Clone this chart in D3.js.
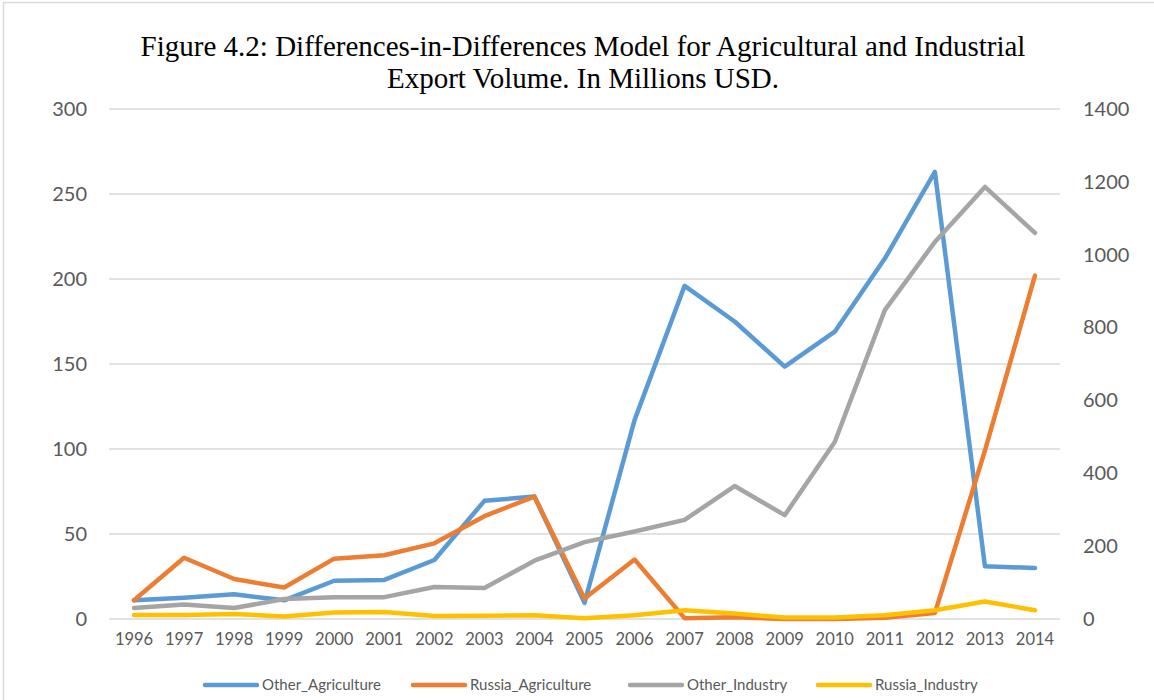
<!DOCTYPE html>
<html>
<head>
<meta charset="utf-8">
<script src="https://cdn.jsdelivr.net/npm/d3@7"></script>
<style>
  html, body { margin: 0; padding: 0; background: #fff; }
  svg { display: block; }
</style>
</head>
<body>
<svg id="chart" width="1154" height="700"></svg>
<script>
// Export volumes, millions USD
const years = ["1996","1997","1998","1999","2000","2001","2002","2003","2004","2005",
               "2006","2007","2008","2009","2010","2011","2012","2013","2014"];

// Primary (left) axis series
const otherAgriculture  = [11, 12.5, 14.5, 11, 22.5, 23, 34.7, 69.5, 72, 9.5,
                           117, 196, 175, 148.5, 169, 212, 263, 31, 30];
const russiaAgriculture = [11, 36, 23.5, 18.5, 35.5, 37.5, 44.5, 60.5, 72, 12,
                           35, 0.5, 1, 0, 0, 0.8, 3.5, 99, 202];

// Secondary (right) axis series
const otherIndustry  = [30, 40, 30, 55, 60, 60, 88, 85, 160, 211,
                        240, 272, 365, 285, 486, 848, 1035, 1186, 1060];
const russiaIndustry = [11, 11, 14, 7, 18, 19, 8, 9, 10, 2,
                        10, 24, 15, 4, 4, 10, 24, 48, 24];

const leftTicks  = [0, 50, 100, 150, 200, 250, 300];
const rightTicks = [0, 200, 400, 600, 800, 1000, 1200, 1400];

const seriesNames  = ["Other_Agriculture", "Russia_Agriculture", "Other_Industry", "Russia_Industry"];
const seriesColors = ["#5B9BD5", "#ED7D31", "#A5A5A5", "#FFC000"];
const titleLines = [
  "Figure 4.2: Differences-in-Differences Model for Agricultural and Industrial",
  "Export Volume. In Millions USD."
];

const series = [
  { name: seriesNames[0], values: otherAgriculture,  axis: "left",  color: seriesColors[0] },
  { name: seriesNames[1], values: russiaAgriculture, axis: "left",  color: seriesColors[1] },
  { name: seriesNames[2], values: otherIndustry,     axis: "right", color: seriesColors[2] },
  { name: seriesNames[3], values: russiaIndustry,    axis: "right", color: seriesColors[3] }
];

const svg = d3.select("#chart");
const plot = { left: 109, right: 1060, top: 109, bottom: 619 };

// Chart frame
svg.append("rect")
  .attr("x", 3.5).attr("y", 2.5)
  .attr("width", 1170).attr("height", 720)
  .attr("fill", "#fff")
  .attr("stroke", "#D9D9D9").attr("stroke-width", 1.5);

const x = d3.scaleBand().domain(years).range([plot.left, plot.right]).padding(0);
const yLeft = d3.scaleLinear().domain([0, 300]).range([plot.bottom, plot.top]);
const yRight = d3.scaleLinear().domain([0, 1400]).range([plot.bottom, plot.top]);

// Title
svg.append("text")
  .attr("x", 583).attr("y", 56)
  .attr("text-anchor", "middle")
  .attr("font-family", "'Liberation Serif', 'Times New Roman', serif")
  .attr("font-size", 29)
  .attr("fill", "#000")
  .selectAll("tspan").data(titleLines).join("tspan")
  .attr("x", 583)
  .attr("dy", (d, i) => i === 0 ? 0 : 32)
  .text(d => d);

// Horizontal gridlines from the left axis
svg.append("g")
  .selectAll("line").data(leftTicks).join("line")
  .attr("x1", plot.left).attr("x2", plot.right)
  .attr("y1", d => yLeft(d)).attr("y2", d => yLeft(d))
  .attr("stroke", "#D9D9D9").attr("stroke-width", 1.5);

const labelFont = "Lato, 'Open Sans', sans-serif";

// Left axis
const leftAxis = svg.append("g")
  .attr("transform", `translate(${plot.left},0)`)
  .call(d3.axisLeft(yLeft).tickValues(leftTicks).tickFormat(d3.format("d")).tickSize(0).tickPadding(22));
leftAxis.select(".domain").remove();
leftAxis.selectAll("text")
  .attr("font-family", labelFont).attr("font-size", 20).attr("fill", "#595959");

// Right axis
const rightAxis = svg.append("g")
  .attr("transform", `translate(${plot.right},0)`)
  .call(d3.axisRight(yRight).tickValues(rightTicks).tickFormat(d3.format("d")).tickSize(0).tickPadding(23));
rightAxis.select(".domain").remove();
rightAxis.selectAll("text")
  .attr("font-family", labelFont).attr("font-size", 20).attr("fill", "#595959");

// Bottom axis (category labels)
const bottomAxis = svg.append("g")
  .attr("transform", `translate(0,${plot.bottom})`)
  .call(d3.axisBottom(x).tickSize(0).tickPadding(14));
bottomAxis.select(".domain").remove();
bottomAxis.selectAll("text")
  .attr("font-family", labelFont).attr("font-size", 16.5).attr("fill", "#595959");

// Series lines
const lineGen = (yScale) => d3.line()
  .x((d, i) => x(years[i]) + x.bandwidth() / 2)
  .y(d => yScale(d));

svg.append("g")
  .selectAll("path").data(series).join("path")
  .attr("d", s => lineGen(s.axis === "left" ? yLeft : yRight)(s.values))
  .attr("fill", "none")
  .attr("stroke", s => s.color)
  .attr("stroke-width", 4.5)
  .attr("stroke-linejoin", "round")
  .attr("stroke-linecap", "round");

// Legend
const legendX = [205, 413, 630, 818];
const legend = svg.append("g").attr("transform", "translate(0,685)");
const items = legend.selectAll("g").data(series).join("g")
  .attr("transform", (d, i) => `translate(${legendX[i]},0)`);
items.append("line")
  .attr("x1", 0).attr("x2", 52).attr("y1", 0).attr("y2", 0)
  .attr("stroke", d => d.color).attr("stroke-width", 4.5)
  .attr("stroke-linecap", "round");
items.append("text")
  .attr("x", 57).attr("y", 0).attr("dy", "0.35em")
  .attr("font-family", labelFont).attr("font-size", 15).attr("fill", "#595959")
  .text(d => d.name);
</script>
</body>
</html>
